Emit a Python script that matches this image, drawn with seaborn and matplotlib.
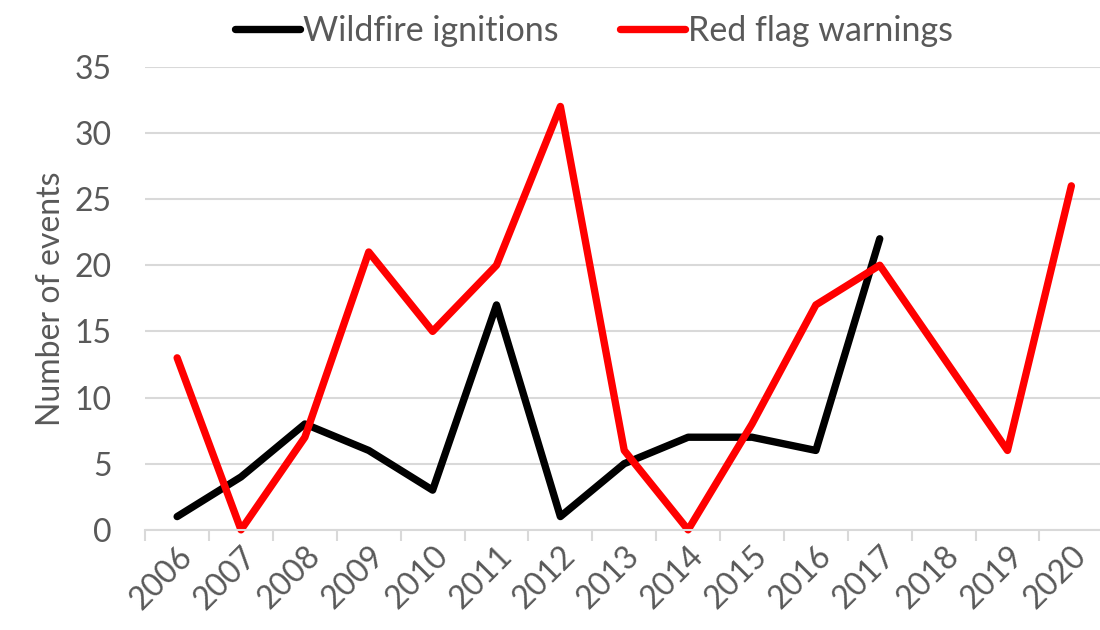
import numpy as np
import pandas as pd
import matplotlib.pyplot as plt
import seaborn as sns
from matplotlib.ticker import MultipleLocator, FixedLocator
from matplotlib.lines import Line2D

# Datos
years = [str(y) for y in range(2006, 2021)]
wildfire_ignitions = [1, 4, 8, 6, 3, 17, 1, 5, 7, 7, 6, 22, np.nan, np.nan, np.nan]
red_flag_warnings = [13, 0, 7, 21, 15, 20, 32, 6, 0, 8, 17, 20, 13, 6, 26]
series_names = ['Wildfire ignitions', 'Red flag warnings']
series_colors = ['#000000', '#ff0000']

df = pd.DataFrame({
    'x': list(range(len(years))) * 2,
    'value': wildfire_ignitions + red_flag_warnings,
    'serie': [series_names[0]] * len(years) + [series_names[1]] * len(years),
})

sns.set_style('white')
plt.rcParams['font.family'] = ['Lato', 'DejaVu Sans']
text_color = '#595959'
grid_color = '#d9d9d9'
fs = 23
lw = 5.3

fig = plt.figure(figsize=(11, 6.3), dpi=100)
ax = fig.add_axes([0.132, 0.159, 0.871, 0.735])

sns.lineplot(data=df.dropna(), x='x', y='value', hue='serie', palette=series_colors,
             hue_order=series_names, linewidth=lw, legend=False, ax=ax, sort=False)
for line in ax.lines:
    line.set_solid_joinstyle('round')
    line.set_solid_capstyle('round')
    line.set_clip_on(False)

ax.set_ylim(0, 35)
ax.set_xlim(-0.5, len(years) - 0.5)
ax.yaxis.set_major_locator(MultipleLocator(5))
ax.grid(axis='y', color=grid_color, linewidth=1.5)
ax.set_axisbelow(True)

# Ejes con estilo tipo Excel
for s in ['top', 'right', 'left']:
    ax.spines[s].set_visible(False)
ax.spines['bottom'].set_color(grid_color)
ax.spines['bottom'].set_linewidth(1.5)

ax.set_xticks(range(len(years)))
ax.set_xticklabels(years, rotation=45, ha='right', rotation_mode='anchor')
ax.xaxis.set_minor_locator(FixedLocator(np.arange(-0.5, len(years), 1.0)))
ax.tick_params(axis='x', which='major', length=0, pad=8, labelsize=fs, labelcolor=text_color)
ax.tick_params(axis='x', which='minor', length=8, width=1.5, color=grid_color, bottom=True)
ax.tick_params(axis='y', length=0, pad=24, labelsize=fs, labelcolor=text_color)

ax.set_xlabel('')
ax.set_ylabel('Number of events', fontsize=fs, color=text_color, labelpad=6)

handles = [Line2D([0], [0], color=c, linewidth=lw, solid_capstyle='round') for c in series_colors]
fig.legend(handles, series_names, loc='upper center', bbox_to_anchor=(0.54, 1.025), ncol=2,
           frameon=False, fontsize=24.5, labelcolor=text_color, handlelength=1.9,
           handletextpad=0.1, columnspacing=1.8)

fig.savefig('out.png', dpi=100)
